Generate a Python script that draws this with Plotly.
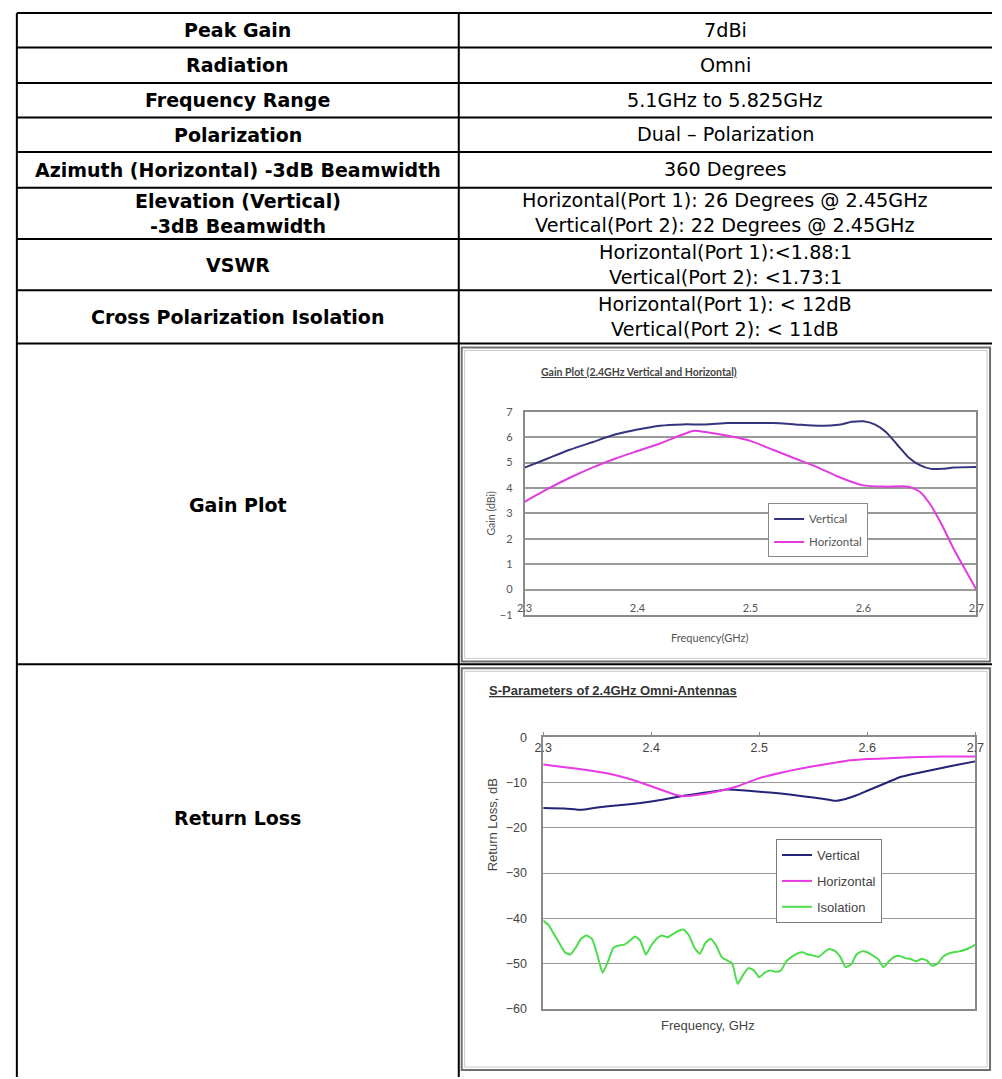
import plotly.graph_objects as go

# ---------------- data ----------------
param_labels = ["Peak Gain", "Radiation", "Frequency Range", "Polarization",
                "Azimuth (Horizontal) -3dB Beamwidth",
                ["Elevation (Vertical)", "-3dB Beamwidth"],
                "VSWR", "Cross Polarization Isolation", "Gain Plot", "Return Loss"]
param_values = [["7dBi"], ["Omni"], ["5.1GHz to 5.825GHz"], ["Dual \u2013 Polarization"],
                ["360 Degrees"],
                ["Horizontal(Port 1): 26 Degrees @ 2.45GHz", "Vertical(Port 2): 22 Degrees @ 2.45GHz"],
                ["Horizontal(Port 1):<1.88:1", "Vertical(Port 2): <1.73:1"],
                ["Horizontal(Port 1): < 12dB", "Vertical(Port 2): < 11dB"]]

gain_freq_v = [2.30, 2.32, 2.34, 2.36, 2.38, 2.40, 2.42, 2.44, 2.46, 2.48, 2.50, 2.52, 2.54,
               2.56, 2.58, 2.59, 2.60, 2.61, 2.62, 2.63, 2.64, 2.65, 2.66, 2.67, 2.68, 2.70]
gain_vertical = [4.8, 5.15, 5.5, 5.8, 6.1, 6.3, 6.45, 6.5, 6.5, 6.55, 6.55, 6.55, 6.5,
                 6.45, 6.5, 6.6, 6.62, 6.5, 6.2, 5.7, 5.2, 4.9, 4.75, 4.75, 4.8, 4.82]
gain_freq_h = [2.30, 2.32, 2.34, 2.36, 2.38, 2.40, 2.42, 2.44, 2.45, 2.46, 2.48, 2.50, 2.52,
               2.54, 2.56, 2.58, 2.60, 2.62, 2.64, 2.65, 2.66, 2.67, 2.68, 2.69, 2.70]
gain_horizontal = [3.45, 3.95, 4.4, 4.8, 5.15, 5.45, 5.75, 6.1, 6.25, 6.2, 6.05, 5.85, 5.5,
                   5.15, 4.8, 4.4, 4.1, 4.05, 4.05, 3.85, 3.3, 2.5, 1.6, 0.8, 0.0]
gain_xticks = [2.3, 2.4, 2.5, 2.6, 2.7]
gain_xticklabels = ["2.3", "2.4", "2.5", "2.6", "2.7"]

rl_freq_v = [2.30, 2.32, 2.335, 2.35, 2.37, 2.39, 2.41, 2.43, 2.45, 2.47, 2.48, 2.50, 2.52,
             2.54, 2.56, 2.57, 2.58, 2.59, 2.60, 2.61, 2.62, 2.63, 2.64, 2.66, 2.68, 2.70]
rl_vertical = [-15.6, -15.7, -16.0, -15.5, -15.0, -14.5, -13.8, -12.9, -12.2, -11.5, -11.6,
               -12.0, -12.4, -13.0, -13.6, -14.0, -13.6, -12.8, -11.8, -10.8, -9.8, -8.8,
               -8.2, -7.2, -6.2, -5.3]
rl_freq_h = [2.30, 2.32, 2.34, 2.36, 2.38, 2.40, 2.42, 2.43, 2.44, 2.46, 2.48, 2.50, 2.52,
             2.54, 2.56, 2.58, 2.60, 2.62, 2.64, 2.66, 2.68, 2.70]
rl_horizontal = [-6.0, -6.6, -7.2, -8.0, -9.2, -10.8, -12.5, -13.0, -12.8, -12.0, -10.8,
                 -9.0, -7.8, -6.8, -6.0, -5.2, -4.8, -4.6, -4.4, -4.3, -4.2, -4.2]
iso_freq = [2.300, 2.305, 2.310, 2.315, 2.320, 2.325, 2.330, 2.335, 2.340, 2.345, 2.350,
            2.355, 2.360, 2.365, 2.370, 2.375, 2.380, 2.385, 2.390, 2.395, 2.400, 2.405,
            2.410, 2.415, 2.420, 2.425, 2.430, 2.435, 2.440, 2.445, 2.450, 2.455, 2.460,
            2.465, 2.470, 2.475, 2.480, 2.485, 2.490, 2.495, 2.500, 2.505, 2.510, 2.515,
            2.520, 2.525, 2.530, 2.535, 2.540, 2.545, 2.550, 2.555, 2.560, 2.565, 2.570,
            2.575, 2.580, 2.585, 2.590, 2.595, 2.600, 2.605, 2.610, 2.615, 2.620, 2.625,
            2.630, 2.635, 2.640, 2.645, 2.650, 2.655, 2.660, 2.665, 2.670, 2.675, 2.680,
            2.685, 2.690, 2.695, 2.700]
iso_values = [-40.5, -41.5, -43.5, -45.5, -47.5, -48.0, -46.5, -44.5, -43.8, -44.5, -48.0,
              -52.0, -49.5, -46.5, -46.0, -45.8, -45.0, -44.0, -45.0, -48.0, -46.0, -44.5,
              -43.8, -44.2, -43.5, -42.8, -42.5, -43.8, -46.5, -47.8, -45.5, -44.5, -46.0,
              -48.5, -49.3, -50.0, -54.5, -52.5, -51.0, -51.5, -53.0, -52.0, -51.5, -51.8,
              -51.5, -49.5, -48.5, -47.8, -47.5, -48.0, -48.2, -48.5, -47.5, -46.8, -47.2,
              -48.5, -50.8, -50.2, -48.0, -47.3, -47.5, -48.2, -49.0, -50.8, -49.5, -48.5,
              -48.3, -48.8, -49.0, -49.5, -49.0, -49.3, -50.5, -50.0, -48.5, -47.8, -47.5,
              -47.3, -47.0, -46.5, -45.8]
rl_xticks = [2.3, 2.4, 2.5, 2.6, 2.7]
rl_xticklabels = ["2.3", "2.4", "2.5", "2.6", "2.7"]

# ---------------- geometry helpers ----------------
W, H = 1002, 1079
def fx(x):
    return x / W
def fy(y):
    return 1 - y / H

TABLE_L, TABLE_M, TABLE_R = 8, 458, 1001
row_edges = [6, 41, 77, 112, 147, 183, 235, 287, 341, 666]
COL_L_C = (TABLE_L + TABLE_M) / 2
COL_R_C = (TABLE_M + TABLE_R) / 2

fig = go.Figure()

# ---------------- gain chart ----------------
fig.add_trace(go.Scatter(x=gain_freq_v, y=gain_vertical, mode="lines", name="Vertical",
                         line=dict(color="#34347f", width=2, shape="spline", smoothing=0.6),
                         xaxis="x", yaxis="y", legend="legend", legendgroup="gv"))
fig.add_trace(go.Scatter(x=gain_freq_h, y=gain_horizontal, mode="lines", name="Horizontal",
                         line=dict(color="#e03ce0", width=2, shape="spline", smoothing=0.6),
                         xaxis="x", yaxis="y", legend="legend", legendgroup="gh"))

# ---------------- return loss chart ----------------
fig.add_trace(go.Scatter(x=rl_freq_v, y=rl_vertical, mode="lines", name="Vertical",
                         line=dict(color="#232378", width=2, shape="spline", smoothing=0.4),
                         xaxis="x2", yaxis="y2", legend="legend2", legendgroup="rv"))
fig.add_trace(go.Scatter(x=rl_freq_h, y=rl_horizontal, mode="lines", name="Horizontal",
                         line=dict(color="#e53ae5", width=2, shape="spline", smoothing=0.4),
                         xaxis="x2", yaxis="y2", legend="legend2", legendgroup="rh"))
fig.add_trace(go.Scatter(x=iso_freq, y=iso_values, mode="lines", name="Isolation",
                         line=dict(color="#4cdc4c", width=2, shape="spline", smoothing=0.5),
                         xaxis="x2", yaxis="y2", legend="legend2", legendgroup="ri"))

shapes = []
# chart image frames
for (x0, y0, x1, y1) in [(461, 345, 999, 663), (461, 670, 999, 1077)]:
    shapes.append(dict(type="rect", xref="paper", yref="paper", x0=fx(x0), x1=fx(x1),
                       y0=fy(y1), y1=fy(y0), line=dict(color="#6f6f6f", width=2),
                       fillcolor="white", layer="below"))
    shapes.append(dict(type="rect", xref="paper", yref="paper", x0=fx(x0 + 3), x1=fx(x1 - 3),
                       y0=fy(y1 - 3), y1=fy(y0 + 3), line=dict(color="#c9c9c9", width=1),
                       layer="below"))
# table lines
for y in row_edges:
    shapes.append(dict(type="line", xref="paper", yref="paper", x0=fx(TABLE_L), x1=fx(TABLE_R),
                       y0=fy(y), y1=fy(y), line=dict(color="black", width=2)))
for x in (TABLE_L, TABLE_M):
    shapes.append(dict(type="line", xref="paper", yref="paper", x0=fx(x), x1=fx(x),
                       y0=fy(row_edges[0]), y1=fy(H + 5), line=dict(color="black", width=2)))

annotations = []
TFONT = "DejaVu Sans"
LSIZE = 19
RSIZE = 19.2
for i, lab in enumerate(param_labels):
    if i < len(row_edges) - 1:
        yc = (row_edges[i] + row_edges[i + 1]) / 2
    else:
        yc = 822
    if i == 8:
        yc = 505
    lines = lab if isinstance(lab, list) else [lab]
    text = "<br>".join("<b>" + t + "</b>" for t in lines)
    annotations.append(dict(text=text, x=fx(COL_L_C), y=fy(yc), xref="paper",
                            yref="paper", showarrow=False, xanchor="center", yanchor="middle",
                            align="center",
                            font=dict(family=TFONT, size=LSIZE, color="black")))
for i, vals in enumerate(param_values):
    yc = (row_edges[i] + row_edges[i + 1]) / 2
    annotations.append(dict(text="<br>".join(vals), x=fx(COL_R_C), y=fy(yc), xref="paper",
                            yref="paper", showarrow=False, xanchor="center", yanchor="middle",
                            align="center",
                            font=dict(family=TFONT, size=RSIZE, color="black")))

# chart titles / axis titles
GF = "Lato"
RF = "Liberation Sans"
annotations += [
    dict(text="<u><b>Gain Plot (2.4GHz Vertical and Horizontal)</b></u>", x=fx(743), y=fy(370),
         xref="paper", yref="paper", showarrow=False, font=dict(family=GF, size=10.5, color="#444")),
    dict(text="Gain (dBi)", x=fx(491), y=fy(513), xref="paper", yref="paper", showarrow=False,
         textangle=-90, font=dict(family=GF, size=10.5, color="#555")),
    dict(text="Frequency(GHz)", x=fx(755), y=fy(639), xref="paper", yref="paper", showarrow=False,
         font=dict(family=GF, size=11, color="#555")),
    dict(text="<u><b>S-Parameters of 2.4GHz Omni-Antennas</b></u>", x=fx(743), y=fy(692),
         xref="paper", yref="paper", showarrow=False, font=dict(family=RF, size=13, color="#333")),
    dict(text="Return Loss, dB", x=fx(492), y=fy(878), xref="paper", yref="paper", showarrow=False,
         textangle=-90, font=dict(family=RF, size=13, color="#444")),
    dict(text="Frequency, GHz", x=fx(762), y=fy(1042), xref="paper", yref="paper", showarrow=False,
         font=dict(family=RF, size=13, color="#444")),
]

fig.update_layout(
    width=W, height=H, autosize=False,
    margin=dict(l=0, r=0, t=0, b=0, pad=0),
    paper_bgcolor="white", plot_bgcolor="white",
    shapes=shapes, annotations=annotations,
    xaxis=dict(domain=[fx(525), fx(985)], range=[2.3, 2.7], tickvals=gain_xticks,
               ticktext=gain_xticklabels, anchor="y", showgrid=False, zeroline=False,
               showline=True, mirror=True, linecolor="#8a8a8a", linewidth=1.5, ticks="",
               ticklabelposition="inside", ticklabeloverflow="allow",
               tickfont=dict(family=GF, size=11, color="#555")),
    yaxis=dict(domain=[fy(616), fy(410)], range=[-1, 7], dtick=1, anchor="x",
               showgrid=True, gridcolor="#9a9a9a", gridwidth=1.5, zeroline=False,
               showline=True, mirror=True, linecolor="#8a8a8a", linewidth=1.5, ticks="",
               ticklabelstandoff=8, tickfont=dict(family=GF, size=11, color="#555")),
    xaxis2=dict(domain=[fx(544), fx(984)], range=[2.3, 2.7], tickvals=rl_xticks,
                ticktext=rl_xticklabels, anchor="y2", side="top", showgrid=False,
                zeroline=False, showline=True, mirror=True, linecolor="#8a8a8a", linewidth=1.5,
                ticks="outside", ticklen=4, tickcolor="#8a8a8a", ticklabelposition="inside",
                ticklabeloverflow="allow", ticklabelstandoff=6,
                tickfont=dict(family=RF, size=12.5, color="#444")),
    yaxis2=dict(domain=[fy(1015), fy(740)], range=[-60, 0], dtick=10, anchor="x2",
                showgrid=True, gridcolor="#9a9a9a", gridwidth=1.2, zeroline=False,
                showline=True, mirror=True, linecolor="#8a8a8a", linewidth=1.5, ticks="",
                ticklabelstandoff=12, tickfont=dict(family=RF, size=12.5, color="#444")),
    legend=dict(x=fx(773), y=fy(503), xanchor="left", yanchor="top", bgcolor="white",
                bordercolor="#8a8a8a", borderwidth=1, font=dict(family=GF, size=11.5, color="#555"),
                itemwidth=30, tracegroupgap=4, traceorder="grouped"),
    legend2=dict(x=fx(781), y=fy(843), xanchor="left", yanchor="top", bgcolor="white",
                 bordercolor="#7a7a7a", borderwidth=1, font=dict(family=RF, size=13, color="#444"),
                 itemwidth=30, tracegroupgap=6, traceorder="grouped"),
    showlegend=True,
)

fig.write_html("out.html", config={"displayModeBar": False},
               post_script="document.body.style.margin='0';document.documentElement.style.overflow='hidden';")
